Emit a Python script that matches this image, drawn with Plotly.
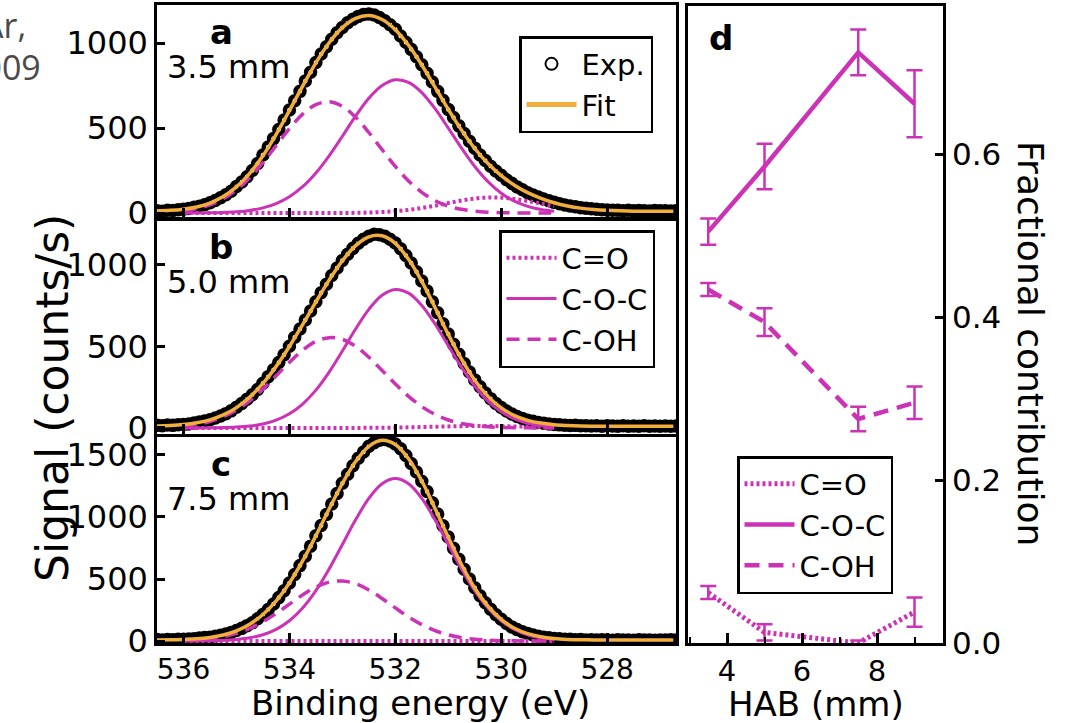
import plotly.graph_objects as go

FONT = "DejaVu Sans"
MAGENTA = "#CB32B6"
ORANGE = "#F2AE3A"
W, H = 1074, 723

# ---- XPS O 1s spectra (counts/s); energies run from high to low binding energy ----
EXP_START, EXP_STEP = 536.5, 0.1
FIT_START, FIT_STEP = 536.5, 0.25
COMP_START, COMP_STEP = 536.0, 0.25

exp_a = [14, 11, 17, 15, 19, 23, 27, 34, 40, 49, 61, 74, 90, 108, 128, 156, 183, 214, 251, 291,
         341, 388, 438, 491, 547, 606, 661, 716, 777, 828, 886, 936, 979, 1022, 1061, 1092, 1119,
         1140, 1157, 1168, 1171, 1165, 1150, 1131, 1108, 1081, 1042, 1005, 963, 920, 873, 822, 771,
         716, 663, 610, 562, 513, 468, 423, 382, 342, 309, 276, 248, 222, 196, 175, 154, 137, 120,
         106, 94, 83, 72, 63, 55, 48, 42, 37, 32, 28, 25, 22, 20, 18, 16, 17, 14, 16, 13, 15, 14,
         12, 15, 13, 14, 12, 13]
exp_b = [16, 13, 18, 16, 20, 22, 25, 30, 36, 42, 51, 61, 74, 88, 105, 127, 150, 176, 204, 236,
         275, 315, 357, 402, 450, 502, 556, 607, 662, 718, 775, 830, 882, 935, 982, 1028, 1066,
         1102, 1133, 1158, 1176, 1188, 1185, 1176, 1158, 1135, 1100, 1058, 1012, 958, 902, 840, 774,
         707, 640, 576, 513, 452, 396, 343, 295, 253, 214, 180, 150, 125, 104, 86, 71, 58, 48, 41,
         34, 29, 25, 21, 19, 17, 15, 16, 13, 14, 12, 13, 11, 13, 12, 10, 13, 11, 12, 10, 13, 11, 12,
         10, 12, 11, 12]
exp_c = [12, 9, 13, 11, 14, 15, 17, 19, 24, 28, 31, 39, 46, 56, 68, 84, 102, 124, 148, 179, 214,
         254, 298, 350, 406, 468, 537, 608, 684, 765, 849, 932, 1020, 1104, 1190, 1272, 1344, 1414,
         1474, 1524, 1570, 1598, 1619, 1624, 1612, 1588, 1550, 1496, 1432, 1363, 1288, 1206, 1114,
         1024, 930, 838, 747, 660, 578, 500, 430, 365, 308, 256, 212, 175, 142, 114, 92, 74, 60, 48,
         39, 31, 26, 21, 18, 15, 14, 11, 12, 9, 11, 8, 10, 9, 7, 10, 8, 9, 7, 10, 8, 9, 7, 9, 8, 10, 8]

fit_a = [13, 16, 23, 36, 59, 97, 154, 234, 337, 463, 603, 747, 884, 1002, 1091, 1145, 1162, 1139,
         1079, 987, 871, 741, 610, 488, 380, 291, 220, 164, 120, 87, 61, 42, 29, 21, 16, 13, 11,
         10.5, 10.2, 10.1]
fit_b = [12, 15, 21, 32, 50, 80, 125, 189, 273, 378, 500, 634, 773, 907, 1026, 1119, 1173, 1179,
         1133, 1035, 899, 739, 574, 422, 293, 194, 123, 76, 47, 30, 20, 15, 12, 11, 10.4, 10.1, 10,
         10, 10, 10]
fit_c = [9, 10, 13, 18, 29, 49, 82, 135, 214, 324, 468, 646, 849, 1064, 1270, 1447, 1570, 1619,
         1585, 1470, 1290, 1069, 836, 617, 428, 281, 174, 103, 59, 34, 20, 13, 10, 9, 8.3, 8.1, 8,
         8, 8, 8]

# fitted components
coh_a = [12.8, 25.6, 47.8, 83.3, 136, 208, 297, 397, 497, 582, 638, 655, 628, 564, 474, 373, 274,
         189, 122, 73, 41, 22, 10.8, 5.0, 2.2, 0.9, 0.4, 0.1, 0]
coc_a = [0.2, 0.6, 1.4, 3.4, 7.5, 15.6, 30.4, 55.7, 96, 155, 236, 337, 452, 570, 675, 750, 784,
         769, 709, 614, 500, 382, 274, 185, 117, 70, 39, 20.5, 10.1]
co_a = [0, 0, 0, 0, 0, 0, 0, 0, 0, 0, 0.1, 0.2, 0.6, 1.4, 3.0, 6.0, 11.1, 18.9, 29.9, 43.6, 58.9,
        73.7, 85.3, 91.4, 90.7, 83.3, 70.9, 55.8, 40.7]

coh_b = [11.0, 21.5, 39.4, 67.9, 110, 167, 238, 320, 403, 477, 531, 554, 544, 502, 434, 353, 270,
         194, 131, 83, 49, 27.6, 14.5, 7.2, 3.3, 1.4, 0.6, 0.2, 0]
coc_b = [0.1, 0.3, 0.9, 2.2, 5.3, 11.8, 24.5, 47.7, 86.7, 147, 232, 343, 472, 607, 728, 814, 850,
         827, 752, 638, 505, 373, 257, 165, 99, 55.4, 28.9, 14.1, 6.4]
co_b = [0, 0, 0, 0, 0, 0, 0, 0, 0, 0, 0, 0, 0.2, 0.4, 0.8, 1.5, 2.5, 3.9, 5.7, 7.7, 9.6, 11.1,
        11.9, 11.8, 10.9, 9.2, 7.3, 5.3, 3.6]

coh_c = [4.3, 9.3, 18.7, 35.1, 61.6, 101, 155, 222, 297, 372, 435, 475, 484, 462, 412, 343, 267,
         194, 132, 83.6, 49.6, 27.5, 14.3, 6.9, 3.1, 1.3, 0.5, 0.2, 0]
coc_c = [0.3, 0.9, 2.2, 5.4, 12.1, 25.5, 50.6, 93.9, 163, 266, 406, 581, 778, 977, 1150, 1268,
         1310, 1268, 1150, 977, 778, 581, 406, 266, 163, 93.9, 50.6, 25.5, 12.1]
co_c = [0, 0, 0, 0, 0, 0, 0, 0, 0, 0, 0, 0, 0, 0, 0, 0, 0, 0, 0, 0, 0, 0, 0, 0, 0, 0, 0, 0, 0]

panel_labels = ["a", "b", "c"]
heights = ["3.5 mm", "5.0 mm", "7.5 mm"]
signal_ticks = [[0, 500, 1000], [0, 500, 1000], [0, 500, 1000, 1500]]
energy_ticks = [528, 530, 532, 534, 536]

# ---- fractional contributions vs height above burner ----
hab = [3.5, 5.0, 7.5, 9.0]
frac_co = [0.062, 0.013, 0.000, 0.038]
frac_co_err = [0.008, 0.010, 0.003, 0.018]
frac_coc = [0.505, 0.585, 0.725, 0.662]
frac_coc_err = [0.016, 0.028, 0.028, 0.041]
frac_coh = [0.434, 0.394, 0.275, 0.295]
frac_coh_err = [0.008, 0.017, 0.015, 0.020]
frac_ticks = [0.0, 0.2, 0.4, 0.6]
hab_ticks = [4, 6, 8]


def grid(start, step, n):
    return [round(start - i * step, 3) for i in range(n)]


def px(x):
    return x / W


def py(y):
    return 1 - y / H


fig = go.Figure()

spectra = [
    (exp_a, fit_a, co_a, coc_a, coh_a),
    (exp_b, fit_b, co_b, coc_b, coh_b),
    (exp_c, fit_c, co_c, coc_c, coh_c),
]
styles = {
    "C=O": dict(dash="3px,3px", width=4),
    "C-O-C": dict(dash="solid", width=3),
    "C-OH": dict(dash="13px,8px", width=3.5),
}

for i, (ex, ft, co, coc, coh) in enumerate(spectra):
    xa = "x" if i == 0 else f"x{i + 1}"
    ya = "y" if i == 0 else f"y{i + 1}"
    fig.add_trace(go.Scatter(
        x=grid(EXP_START, EXP_STEP, len(ex)), y=ex, xaxis=xa, yaxis=ya, mode="markers",
        marker=dict(symbol="circle-open", size=9, color="black", line=dict(width=4.5)),
        name="Exp.", showlegend=(i == 0), legend="legend"))
    ce = grid(COMP_START, COMP_STEP, len(co))
    for name, vals in (("C=O", co), ("C-O-C", coc), ("C-OH", coh)):
        fig.add_trace(go.Scatter(
            x=ce, y=vals, xaxis=xa, yaxis=ya, mode="lines", name=name,
            line=dict(color=MAGENTA, shape="spline", **styles[name]),
            showlegend=(i == 1), legend="legend2"))
    fig.add_trace(go.Scatter(
        x=grid(FIT_START, FIT_STEP, len(ft)), y=ft, xaxis=xa, yaxis=ya, mode="lines",
        line=dict(color=ORANGE, width=3.5, shape="spline"),
        name="Fit", showlegend=(i == 0), legend="legend"))

# panel d
d_styles = {
    "C=O": dict(dash="3px,3px", width=5),
    "C-O-C": dict(dash="solid", width=4.5),
    "C-OH": dict(dash="15px,9px", width=4.5),
}
for name, vals, err in (("C=O", frac_co, frac_co_err), ("C-O-C", frac_coc, frac_coc_err),
                        ("C-OH", frac_coh, frac_coh_err)):
    fig.add_trace(go.Scatter(
        x=hab, y=vals, xaxis="x4", yaxis="y4", mode="lines", name=name,
        line=dict(color=MAGENTA, **d_styles[name]),
        error_y=dict(type="data", array=err, color=MAGENTA, thickness=2.5, width=8),
        legend="legend3", cliponaxis=False))

frame = dict(showline=True, linecolor="black", linewidth=2.5, mirror=True, showgrid=False,
             zeroline=False, automargin=False)
x_dom = [px(157), px(676)]
y_doms = [[py(218), py(5)], [py(434), py(220)], [py(643), py(437)]]
y_ranges = [[-29, 1224], [-37, 1276], [-16, 1645]]

layout = dict(
    width=W, height=H, margin=dict(l=0, r=0, t=0, b=0, pad=0, autoexpand=False),
    paper_bgcolor="white", plot_bgcolor="white",
    font=dict(family=FONT, color="black"),
)
for i in range(3):
    xk = "xaxis" if i == 0 else f"xaxis{i + 1}"
    yk = "yaxis" if i == 0 else f"yaxis{i + 1}"
    xa = "x" if i == 0 else f"x{i + 1}"
    ya = "y" if i == 0 else f"y{i + 1}"
    layout[xk] = dict(domain=x_dom, anchor=ya, range=[536.5, 526.7], tickvals=energy_ticks,
                      ticks="inside", ticklen=10, tickwidth=2.5, tickcolor="black",
                      showticklabels=(i == 2), tickfont=dict(size=28), **frame)
    layout[yk] = dict(domain=y_doms[i], anchor=xa, range=y_ranges[i], tickvals=signal_ticks[i],
                      ticks="inside", ticklen=8, tickwidth=2.5, tickcolor="black",
                      tickfont=dict(size=32), **frame)

layout["xaxis4"] = dict(domain=[px(688), px(943)], anchor="y4", range=[2.96, 9.76],
                        tickvals=hab_ticks, ticks="inside", ticklen=10, tickwidth=2.5,
                        tickcolor="black", tickfont=dict(size=29),
                        minor=dict(dtick=1, tick0=0, ticks="inside", ticklen=6, tickwidth=2,
                                   tickcolor="black"),
                        **frame)
layout["yaxis4"] = dict(domain=[py(643), py(6)], anchor="x4", side="right", range=[0, 0.782],
                        tickvals=frac_ticks, ticktext=[f"{v:.1f}" for v in frac_ticks],
                        ticks="inside", ticklen=8, tickwidth=2.5, tickcolor="black",
                        tickfont=dict(size=31), **frame)

legend_common = dict(bgcolor="white", bordercolor="black", borderwidth=2.5,
                     font=dict(size=29, family=FONT), traceorder="normal",
                     xanchor="left", yanchor="top", itemwidth=50)
layout["legend"] = dict(x=px(519), y=py(36), itemsizing="constant", **legend_common)
layout["legend2"] = dict(x=px(499), y=py(230), **legend_common)
layout["legend3"] = dict(x=px(737), y=py(456), **legend_common)

fig.update_layout(**layout)

ann = []
for i in range(3):
    top = [5, 220, 437][i]
    ann.append(dict(text=f"<b>{panel_labels[i]}</b>", x=px(221), y=py(top + 27), size=34))
    ann.append(dict(text=heights[i], x=px(165), y=py(top + 62), size=32, xanchor="left"))
ann.append(dict(text="<b>d</b>", x=px(721), y=py(38), size=34))
ann.append(dict(text="Signal (counts/s)", x=px(52), y=py(398), size=44, textangle=-90))
ann.append(dict(text="Binding energy (eV)", x=px(420), y=py(703), size=34))
ann.append(dict(text="HAB (mm)", x=px(816), y=py(704), size=34))
ann.append(dict(text="Fractional contribution", x=px(1031), y=py(343), size=36, textangle=90))

for a in ann:
    fig.add_annotation(
        text=a["text"], x=a["x"], y=a["y"], xref="paper", yref="paper", showarrow=False,
        xanchor=a.get("xanchor", "center"), yanchor="middle", textangle=a.get("textangle", 0),
        font=dict(size=a["size"], family=FONT, color="black"))

# fragments of a caption cropped at the page edge
for text, right, cy in (("Ar,", 28, 25), ("2009", 43, 67)):
    fig.add_annotation(text=text, x=px(right), y=py(cy), xref="paper", yref="paper",
                       showarrow=False, xanchor="right", yanchor="middle",
                       font=dict(size=34, family="Open Sans", color="#4a4a4a"))

fig.write_html("out.html")
